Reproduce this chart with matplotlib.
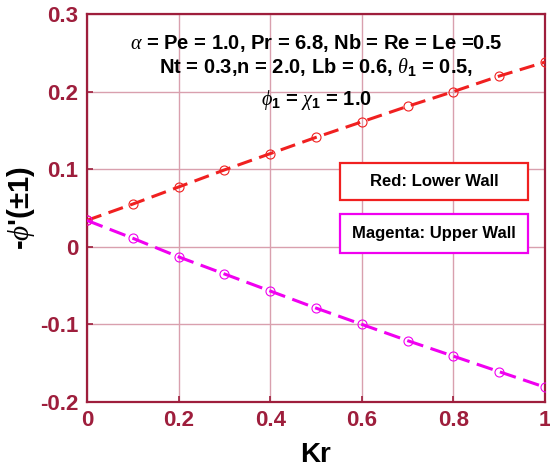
import matplotlib
matplotlib.use("Agg")
import matplotlib.pyplot as plt
from matplotlib.patches import Rectangle

kr = [0.0, 0.1, 0.2, 0.3, 0.4, 0.5, 0.6, 0.7, 0.8, 0.9, 1.0]
lower_wall = [0.034, 0.055, 0.077, 0.099, 0.120, 0.141, 0.161, 0.181, 0.200, 0.220, 0.238]
upper_wall = [0.034, 0.011, -0.013, -0.035, -0.057, -0.079, -0.100, -0.121, -0.141, -0.161, -0.181]
xticks = [0, 0.2, 0.4, 0.6, 0.8, 1.0]
xticklabels = ["0", "0.2", "0.4", "0.6", "0.8", "1"]
yticks = [-0.2, -0.1, 0, 0.1, 0.2, 0.3]
yticklabels = ["-0.2", "-0.1", "0", "0.1", "0.2", "0.3"]

plt.rcParams['font.family'] = ['Liberation Sans', 'DejaVu Sans']
plt.rcParams['mathtext.fontset'] = 'custom'
plt.rcParams['mathtext.rm'] = 'Liberation Sans:bold'
plt.rcParams['mathtext.it'] = 'Liberation Serif:italic'
plt.rcParams['mathtext.bf'] = 'Liberation Sans:bold'

axc = '#9E1E3C'
gridc = '#D9A0AE'
redc = '#F02020'
magc = '#F000F0'

fig = plt.figure(figsize=(5.5, 4.74), dpi=100)
ax = fig.add_axes([0.158, 0.152, 0.833, 0.8185])

ax.plot(kr, lower_wall, color=redc, ls=(0, (5, 2.5)), lw=2.2,
        marker='o', ms=6.5, mfc='none', mec=redc, mew=0.8, zorder=3)
ax.plot(kr, upper_wall, color=magc, ls=(0, (5.5, 2.5)), lw=2.2,
        marker='o', ms=6.5, mfc='none', mec=magc, mew=0.8, zorder=3)

ax.set_xlim(0, 1)
ax.set_ylim(-0.2, 0.3)
ax.set_xticks(xticks)
ax.set_xticklabels(xticklabels)
ax.set_yticks(yticks)
ax.set_yticklabels(yticklabels)
ax.grid(True, color=gridc, lw=1.0)
ax.set_axisbelow(True)
for s in ax.spines.values():
    s.set_color(axc)
    s.set_linewidth(1.6)
ax.tick_params(colors=axc, labelsize=16, direction='in', length=4, width=1.2, pad=6)
for lab in ax.get_xticklabels() + ax.get_yticklabels():
    lab.set_fontweight('bold')

ax.set_xlabel('Kr', fontsize=20, fontweight='bold', labelpad=8)
ax.set_ylabel(r"-$\phi$'(±1)", fontsize=21, fontweight='bold', labelpad=2)

fs = 14.5
ax.text(0.5, 0.925, r"$\alpha$ = Pe = 1.0, Pr = 6.8, Nb = Re = Le =0.5",
        transform=ax.transAxes, ha='center', va='center', fontsize=fs, fontweight='bold')
ax.text(0.5, 0.863, r"Nt = 0.3,n = 2.0, Lb = 0.6, $\theta_{\mathbf{1}}$ = 0.5,",
        transform=ax.transAxes, ha='center', va='center', fontsize=fs, fontweight='bold')
ax.text(0.5, 0.778, r"$\phi_{\mathbf{1}}$ = $\chi_{\mathbf{1}}$ = 1.0",
        transform=ax.transAxes, ha='center', va='center', fontsize=fs, fontweight='bold')

bx0, bx1 = 0.552, 0.963
ax.add_patch(Rectangle((bx0, 0.521), bx1 - bx0, 0.095, transform=ax.transAxes,
                       fc='white', ec=redc, lw=1.6, zorder=4))
ax.add_patch(Rectangle((bx0, 0.384), bx1 - bx0, 0.101, transform=ax.transAxes,
                       fc='white', ec=magc, lw=1.6, zorder=4))
ax.text((bx0 + bx1) / 2, 0.5685, "Red: Lower Wall", transform=ax.transAxes,
        ha='center', va='center', fontsize=12, fontweight='bold', zorder=5)
ax.text((bx0 + bx1) / 2, 0.4345, "Magenta: Upper Wall", transform=ax.transAxes,
        ha='center', va='center', fontsize=12, fontweight='bold', zorder=5)

fig.savefig('out.png', dpi=100)
